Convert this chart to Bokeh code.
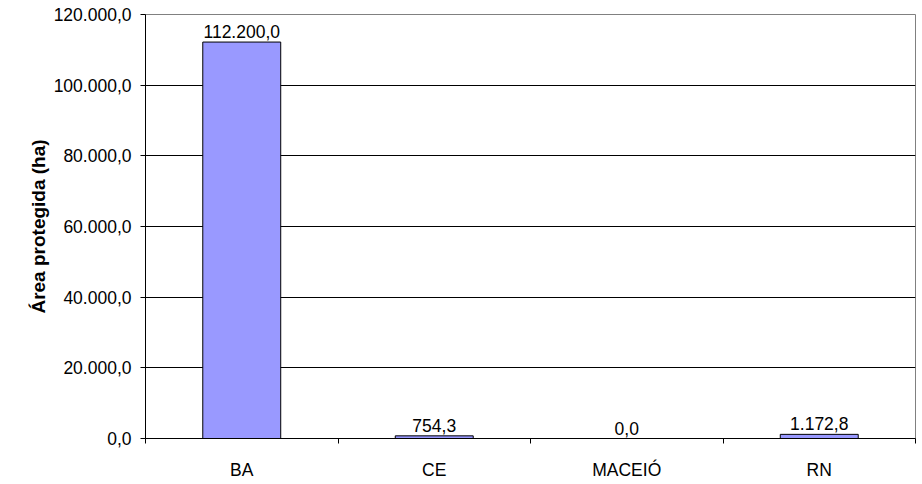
from bokeh.plotting import figure
from bokeh.models import FixedTicker, ColumnDataSource, CustomJSTickFormatter
from bokeh.core.properties import value
from bokeh.embed import file_html
from bokeh.resources import INLINE

categories = ["BA", "CE", "MACEIÓ", "RN"]
areas = [112200.0, 754.3, 0.0, 1172.8]
y_ticks = [0, 20000, 40000, 60000, 80000, 100000, 120000]

def br(v):
    s = f"{v:,.1f}"
    return s.replace(",", "X").replace(".", ",").replace("X", ".")

xs = [i + 0.5 for i in range(len(categories))]
src = ColumnDataSource(dict(x=xs, top=areas, label=[br(v) for v in areas]))

FS = "17.5px"

p = figure(width=920, height=482, output_backend="svg", toolbar_location=None,
           x_range=(0, len(categories)), y_range=(0, 120000),
           min_border_left=145, min_border_right=5, min_border_top=14, min_border_bottom=44)
p.background_fill_color = "white"
p.border_fill_color = "white"
p.outline_line_color = "#808080"

p.vbar(x="x", top="top", width=0.405, source=src, fill_color="#9999FF", line_color="black", line_width=1)
p.text(x="x", y="top", text="label", source=src, text_align="center", text_baseline="bottom",
       y_offset=-4, text_font=value("Liberation Sans"), text_font_size=FS, text_color="black")

p.xgrid.visible = False
p.ygrid.ticker = FixedTicker(ticks=y_ticks)
p.ygrid.grid_line_color = "black"
p.ygrid.grid_line_width = 1

p.yaxis.ticker = FixedTicker(ticks=y_ticks)
p.yaxis.formatter = CustomJSTickFormatter(code="""
const s = tick.toFixed(1).split('.');
return s[0].replace(/\\B(?=(\\d{3})+(?!\\d))/g, '.') + ',' + s[1];
""")
p.yaxis.axis_label = "Área protegida (ha)"
p.yaxis.axis_label_text_font = "Liberation Sans"
p.yaxis.axis_label_text_font_style = "bold"
p.yaxis.axis_label_text_font_size = "19px"
p.yaxis.axis_label_standoff = 2
p.yaxis.major_tick_out = 5
p.yaxis.major_tick_in = 0
p.yaxis.minor_tick_out = 0
p.yaxis.minor_tick_in = 0
p.yaxis.major_label_standoff = 9

p.xaxis.ticker = FixedTicker(ticks=xs, minor_ticks=list(range(len(categories) + 1)))
p.xaxis.major_label_overrides = {x: c for x, c in zip(xs, categories)}
p.xaxis.major_tick_out = 0
p.xaxis.major_tick_in = 0
p.xaxis.minor_tick_out = 5
p.xaxis.minor_tick_in = 0
p.xaxis.major_label_standoff = 16

for ax in (p.xaxis, p.yaxis):
    ax.axis_line_color = "black"
    ax.major_tick_line_color = "black"
    ax.minor_tick_line_color = "black"
    ax.major_label_text_font = "Liberation Sans"
    ax.major_label_text_font_size = FS
    ax.major_label_text_color = "black"
    ax.axis_label_text_color = "black"

open("out.html", "w").write(file_html(p, INLINE))
